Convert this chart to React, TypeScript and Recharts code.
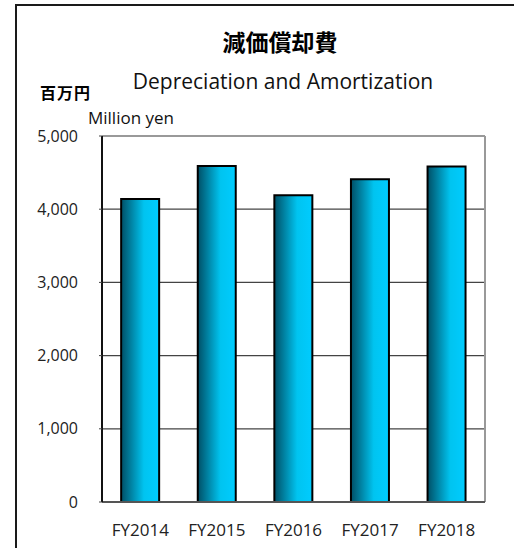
import React from 'react';
import { BarChart, Bar, XAxis, YAxis, CartesianGrid, ReferenceLine } from 'recharts';

const categories = ['FY2014', 'FY2015', 'FY2016', 'FY2017', 'FY2018'];
const values = [4140, 4590, 4190, 4410, 4585];
const yTicks = [0, 1000, 2000, 3000, 4000, 5000];
const titleJa = '減価償却費';
const titleEn = 'Depreciation and Amortization';
const unitJa = '百万円';
const unitEn = 'Million yen';

const data = categories.map((name, i) => ({ name, value: values[i] }));

const latin = '"Open Sans", "Noto Sans", sans-serif';
const cjk = '"Noto Sans CJK JP", "Noto Sans", sans-serif';

export default function App() {
  return (
    <div style={{ position: 'absolute', left: 0, top: 0, width: 514, height: 548, overflow: 'hidden', background: '#fff' }}>
      <div style={{ position: 'absolute', left: 15, top: 4, width: 700, height: 700, borderLeft: '2px solid #1a1a1a', borderTop: '2px solid #1a1a1a' }} />
      <div style={{ position: 'absolute', left: 0, width: 560, top: 25, textAlign: 'center', fontFamily: cjk, fontWeight: 700, fontSize: 23, lineHeight: '32px', color: '#000' }}>{titleJa}</div>
      <div style={{ position: 'absolute', left: 0, width: 566, top: 66, textAlign: 'center', fontFamily: latin, fontSize: 21, lineHeight: '30px', color: '#111' }}>{titleEn}</div>
      <div style={{ position: 'absolute', left: 40, top: 81, fontFamily: cjk, fontWeight: 700, fontSize: 16, lineHeight: '22px', letterSpacing: 1, color: '#000' }}>{unitJa}</div>
      <div style={{ position: 'absolute', left: 88, top: 106, fontFamily: latin, fontSize: 17, lineHeight: '24px', color: '#111' }}>{unitEn}</div>
      <div style={{ position: 'absolute', left: 0, top: 0 }}>
        <BarChart
          width={514}
          height={548}
          data={data}
          margin={{ top: 136, right: 29, bottom: 16, left: 42 }}
          barCategoryGap="25%"
        >
          <defs>
            <linearGradient id="barGrad" x1="0" y1="0" x2="1" y2="0">
              <stop offset="0%" stopColor="#004f66" />
              <stop offset="60%" stopColor="#00c4f0" />
              <stop offset="100%" stopColor="#00ccff" />
            </linearGradient>
          </defs>
          <CartesianGrid horizontal vertical={false} stroke="#444" strokeWidth={1.2} />
          <XAxis
            dataKey="name"
            height={30}
            axisLine={{ stroke: '#555', strokeWidth: 2 }}
            tickLine={false}
            tickMargin={16}
            interval={0}
            tick={{ fill: '#222', fontSize: 17, fontFamily: latin }}
          />
          <YAxis
            width={60}
            domain={[0, 5000]}
            ticks={yTicks}
            tickFormatter={(v: number) => v.toLocaleString('en-US')}
            axisLine={{ stroke: '#111', strokeWidth: 2 }}
            tickLine={{ stroke: '#444' }}
            tickSize={3}
            tickMargin={21}
            tick={{ fill: '#222', fontSize: 16, fontFamily: latin }}
            interval={0}
          />
          <ReferenceLine y={5000} stroke="#999" strokeWidth={2} />
          <ReferenceLine x={categories[categories.length - 1]} position="end" stroke="#999" strokeWidth={2} />
          <Bar
            dataKey="value"
            fill="url(#barGrad)"
            stroke="#000"
            strokeWidth={2}
            isAnimationActive={false}
          />
        </BarChart>
      </div>
    </div>
  );
}
